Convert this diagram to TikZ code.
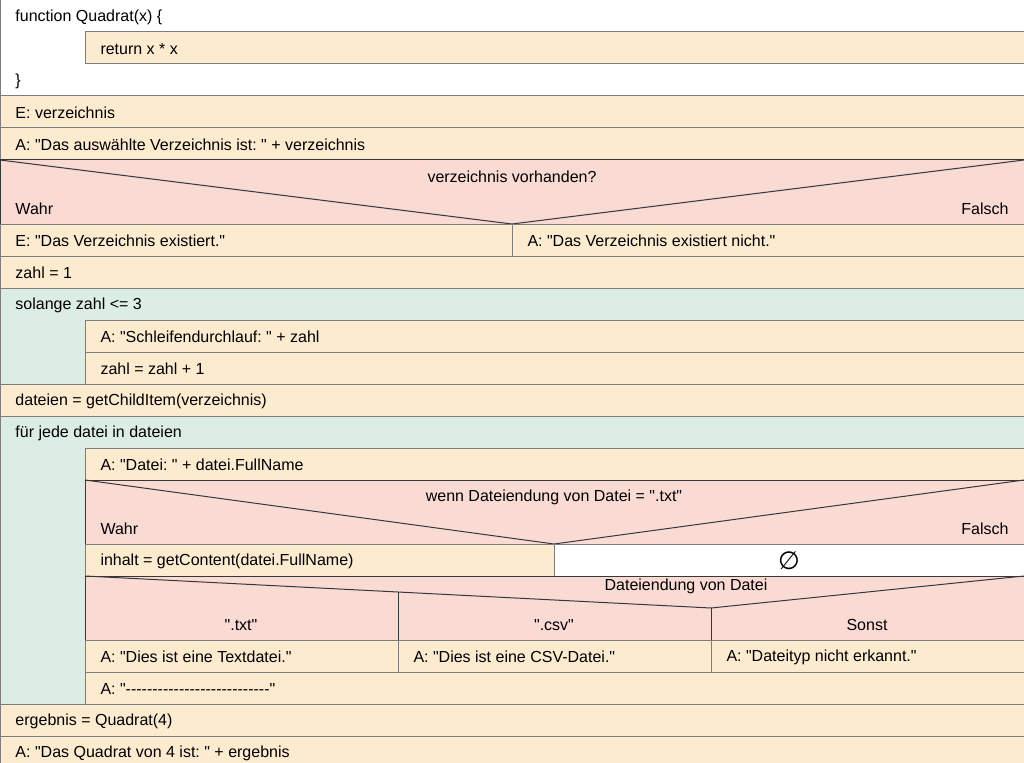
\documentclass[tikz,border=0pt]{standalone}
\usepackage{fontspec}
\setmainfont{Liberation Sans}[Ligatures=TeXOff]
\newfontfamily\symfont{DejaVu Sans}
\frenchspacing

\definecolor{stmtfill}{RGB}{252,235,206}
\definecolor{condfill}{RGB}{250,219,211}
\definecolor{loopfill}{RGB}{219,237,228}
\definecolor{rowline}{RGB}{125,125,125}
\definecolor{branchline}{RGB}{55,55,55}

\tikzset{
  stmt/.style={fill=stmtfill, draw=rowline},
  plain/.style={fill=white, draw=rowline},
  cond/.style={fill=condfill, draw=branchline},
  loopbox/.style={fill=loopfill, draw=rowline},
  txt/.style={anchor=west, inner sep=0pt, yshift=-1pt, font=\fontsize{16}{19}\selectfont},
  mid/.style={anchor=center, inner sep=0pt, yshift=-1pt, font=\fontsize{16}{19}\selectfont},
}

\begin{document}
\begin{tikzpicture}[x=1pt,y=-1pt,line width=1pt]
  \useasboundingbox (0,0) rectangle (1024,762);
  \clip (0,0) rectangle (1024,762);

  % function
  \draw[plain] (0,0) rectangle (1024,96);
  \draw[stmt] (85,32) rectangle (1024,64);
  \node[txt] (fhead) at (15,16) {function Quadrat(x) \{};
  \node[txt] (fret) at (100,48) {return x * x};
  \node[txt] (fend) at (15,80) {\}};

  \draw[stmt] (0,96) rectangle (1024,128);
  \node[txt] (ein) at (15,112) {E: verzeichnis};
  \draw[stmt] (0,128) rectangle (1024,160);
  \node[txt] (aus1) at (15,144) {A: "Das auswählte Verzeichnis ist: " + verzeichnis};

  % if verzeichnis
  \draw[cond] (0,160) rectangle (1024,224);
  \draw[branchline] (0,160) -- (512,224) -- (1024,160);
  \node[mid] (if1) at (512,176) {verzeichnis vorhanden?};
  \node[txt] (if1t) at (15,208) {Wahr};
  \node[txt,anchor=east] (if1f) at (1009,208) {Falsch};
  \draw[stmt] (0,224) rectangle (512,256);
  \draw[stmt] (512,224) rectangle (1024,256);
  \node[txt] (ja1) at (15,240) {E: "Das Verzeichnis existiert."};
  \node[txt] (nein1) at (527,240) {A: "Das Verzeichnis existiert nicht."};

  \draw[stmt] (0,256) rectangle (1024,288);
  \node[txt] (zahl) at (15,272) {zahl = 1};

  % while
  \draw[loopbox] (0,288) rectangle (1024,384);
  \node[txt] (while) at (15,304) {solange zahl <= 3};
  \draw[stmt] (85,320) rectangle (1024,352);
  \node[txt] (wa) at (100,336) {A: "Schleifendurchlauf: " + zahl};
  \draw[stmt] (85,352) rectangle (1024,384);
  \node[txt] (wb) at (100,368) {zahl = zahl + 1};

  \draw[stmt] (0,384) rectangle (1024,416);
  \node[txt] (dateien) at (15,400) {dateien = getChildItem(verzeichnis)};

  % for each
  \draw[loopbox] (0,416) rectangle (1024,704);
  \node[txt] (for) at (15,432) {für jede datei in dateien};
  \draw[stmt] (85,448) rectangle (1024,480);
  \node[txt] (fa) at (100,464) {A: "Datei: " + datei.FullName};

  \draw[cond] (85,480) rectangle (1024,544);
  \draw[branchline] (85,480) -- (554,544) -- (1024,480);
  \node[mid] (if2) at (554,496) {wenn Dateiendung von Datei = ".txt"};
  \node[txt] (if2t) at (100,528) {Wahr};
  \node[txt,anchor=east] (if2f) at (1009,528) {Falsch};
  \draw[stmt] (85,544) rectangle (554,576);
  \node[txt] (ja2) at (100,560) {inhalt = getContent(datei.FullName)};
  \draw[plain] (554,544) rectangle (1024,576);
  \node[mid,font=\symfont\fontsize{25}{25}\selectfont] (leer) at (789,560) {∅};

  % case
  \draw[cond] (85,576) rectangle (1024,640);
  \draw[branchline] (85,576) -- (711,608) -- (1024,576);
  \draw[branchline] (398,592) -- (398,672);
  \draw[branchline] (711,608) -- (711,672);
  \node[mid] (case) at (686,585) {Dateiendung von Datei};
  \node[mid] (c1) at (241,624) {".txt"};
  \node[mid] (c2) at (554,624) {".csv"};
  \node[mid] (c3) at (867,624) {Sonst};
  \draw[stmt] (85,640) rectangle (398,672);
  \draw[stmt] (398,640) rectangle (711,672);
  \draw[stmt] (711,640) rectangle (1024,672);
  \node[txt] (c1a) at (100,656) {A: "Dies ist eine Textdatei."};
  \node[txt] (c2a) at (413,656) {A: "Dies ist eine CSV-Datei."};
  \node[txt] (c3a) at (726,656) {A: "Dateityp nicht erkannt."};
  \draw[stmt] (85,672) rectangle (1024,704);
  \node[txt] (fb) at (100,688) {A: "---------------------------"};

  \draw[stmt] (0,704) rectangle (1024,736);
  \node[txt] (erg) at (15,720) {ergebnis = Quadrat(4)};
  \draw[stmt] (0,736) rectangle (1024,768);
  \node[txt] (aus2) at (15,752) {A: "Das Quadrat von 4 ist: " + ergebnis};
\end{tikzpicture}
\end{document}
